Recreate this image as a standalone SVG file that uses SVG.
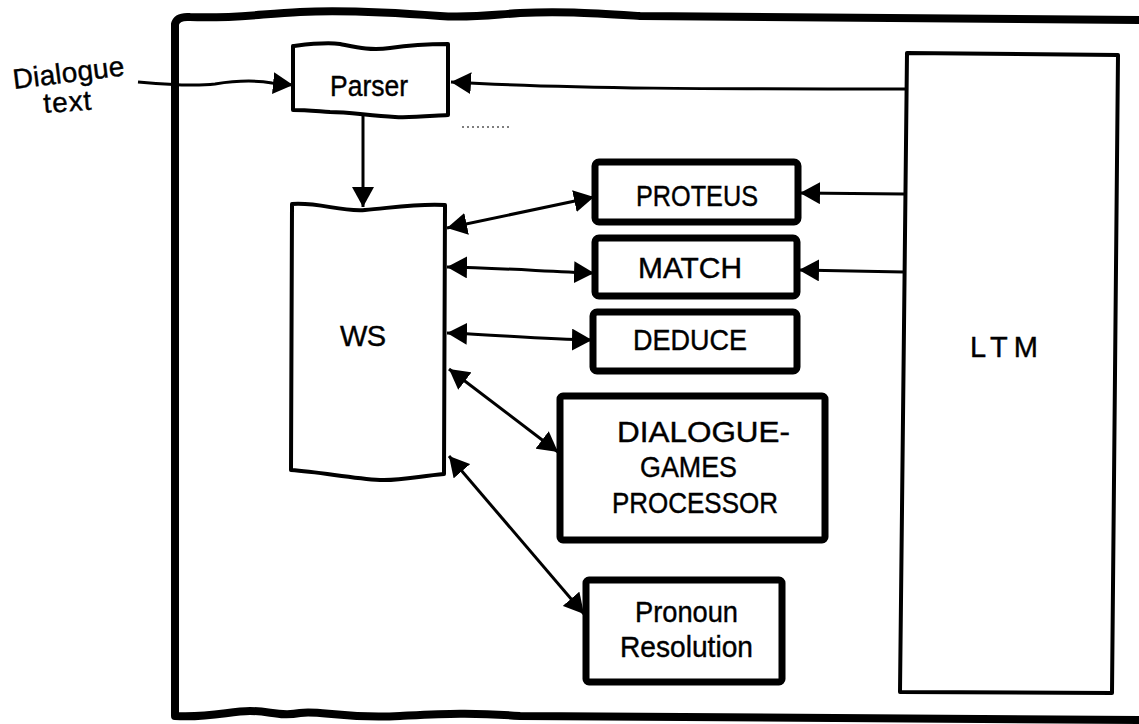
<svg xmlns="http://www.w3.org/2000/svg" width="1139" height="724" viewBox="0 0 1139 724">
<defs>
<style>
.lbl{font-family:"Liberation Sans",Arial,sans-serif;font-size:29px;fill:#000;stroke:#000;stroke-width:0.4;}
.hand{font-family:"Liberation Sans",Arial,sans-serif;font-size:28px;fill:#000;stroke:#000;stroke-width:0.4;}
.box{fill:#fff;stroke:#000;stroke-width:7;stroke-linejoin:round;}
.thin{fill:#fff;stroke:#000;stroke-width:4;stroke-linejoin:round;}
.conn{fill:none;stroke:#000;stroke-width:3;}
.one{marker-end:url(#ah);}
.two{marker-start:url(#ah);marker-end:url(#ah);}
</style>
<marker id="ah" viewBox="0 0 20 22" refX="20" refY="11" markerWidth="20" markerHeight="22" markerUnits="userSpaceOnUse" orient="auto-start-reverse">
<path d="M0,0 L20,11 L0,22 Z" fill="#000"/>
</marker>
</defs>
<rect width="1139" height="724" fill="#fff"/>

<g id="frame">
<path d="M1150 20 L640 16 C590 13 560 11 520 13 C490 15 470 18 440 16 C400 13 340 10 300 12 C260 14 230 19 190 17 Q177 16 175 24 L175 716 C210 718 230 711 250 711 C270 711 280 717 300 713 C320 710 340 719 400 716 C440 714 470 712 520 716 L1150 720" fill="none" stroke="#000" stroke-width="8" stroke-linejoin="round"/>
<path d="M462 127 L510 127" stroke="#555" stroke-width="1.5" stroke-dasharray="2 3"/>
</g>

<g id="connectors">
<path class="conn one" d="M138 82 C160 84 190 87 215 84 C240 80 255 80 272 83 L293 85"/>
<path class="conn one" d="M905 89 C720 89 570 89 451 82"/>
<path class="conn one" d="M363 115 L363 207"/>
<path class="conn two" d="M447 228 L594 197"/>
<path class="conn two" d="M447 267 C500 268 540 271 594 273"/>
<path class="conn two" d="M447 333 C500 335 540 339 592 340"/>
<path class="conn two" d="M449 369 L558 452"/>
<path class="conn two" d="M449 456 L584 614"/>
<path class="conn one" d="M904 194 L800 193"/>
<path class="conn one" d="M904 272 L799 270"/>
</g>

<g id="dialogue-text">
<text class="hand" transform="translate(14 89) rotate(-7)" textLength="112" lengthAdjust="spacing">Dialogue</text>
<text class="hand" transform="translate(44 113) rotate(-4)" textLength="48" lengthAdjust="spacing">text</text>
</g>

<g id="parser">
<path class="thin" d="M293 46 C310 44 325 42 340 44 C355 47 370 51 390 48 C410 45 430 44 448 44 L448 115 C430 116 410 118 395 117 C370 116 350 112 330 112 C315 111 305 110 293 110 Z"/>
<text class="lbl" x="330" y="96" font-size="26" textLength="78" lengthAdjust="spacingAndGlyphs">Parser</text>
</g>

<g id="ws">
<path class="thin" d="M292 204 C320 202 340 212 365 210 C390 208 420 203 445 205 L444 474 C420 476 400 481 380 480 C350 478 320 472 291 470 Z"/>
<text class="lbl" x="340" y="346" textLength="46" lengthAdjust="spacing">WS</text>
</g>

<g id="proteus">
<rect class="box" x="595" y="162" width="203" height="60" rx="4"/>
<text class="lbl" x="636" y="206" textLength="122" lengthAdjust="spacingAndGlyphs">PROTEUS</text>
</g>

<g id="match">
<rect class="box" x="595" y="238" width="202" height="58" rx="4"/>
<text class="lbl" x="638" y="278" textLength="104" lengthAdjust="spacingAndGlyphs">MATCH</text>
</g>

<g id="deduce">
<rect class="box" x="593" y="312" width="204" height="59" rx="4"/>
<text class="lbl" x="633" y="350" textLength="114" lengthAdjust="spacingAndGlyphs">DEDUCE</text>
</g>

<g id="dialogue-games">
<rect class="box" x="560" y="396" width="265" height="144" rx="3"/>
<text class="lbl" x="617" y="442" textLength="173" lengthAdjust="spacingAndGlyphs">DIALOGUE-</text>
<text class="lbl" x="640" y="477" textLength="97" lengthAdjust="spacingAndGlyphs">GAMES</text>
<text class="lbl" x="612" y="513" textLength="166" lengthAdjust="spacingAndGlyphs">PROCESSOR</text>
</g>

<g id="pronoun">
<rect class="box" x="586" y="580" width="196" height="102" rx="3"/>
<text class="lbl" x="635" y="622" textLength="103" lengthAdjust="spacingAndGlyphs">Pronoun</text>
<text class="lbl" x="620" y="657" textLength="133" lengthAdjust="spacingAndGlyphs">Resolution</text>
</g>

<g id="ltm">
<path class="thin" d="M907 53 L1118 55 L1112 693 L900 692 Z"/>
<text class="lbl" x="970" y="357" font-size="27" textLength="68" lengthAdjust="spacing">LTM</text>
</g>
</svg>
